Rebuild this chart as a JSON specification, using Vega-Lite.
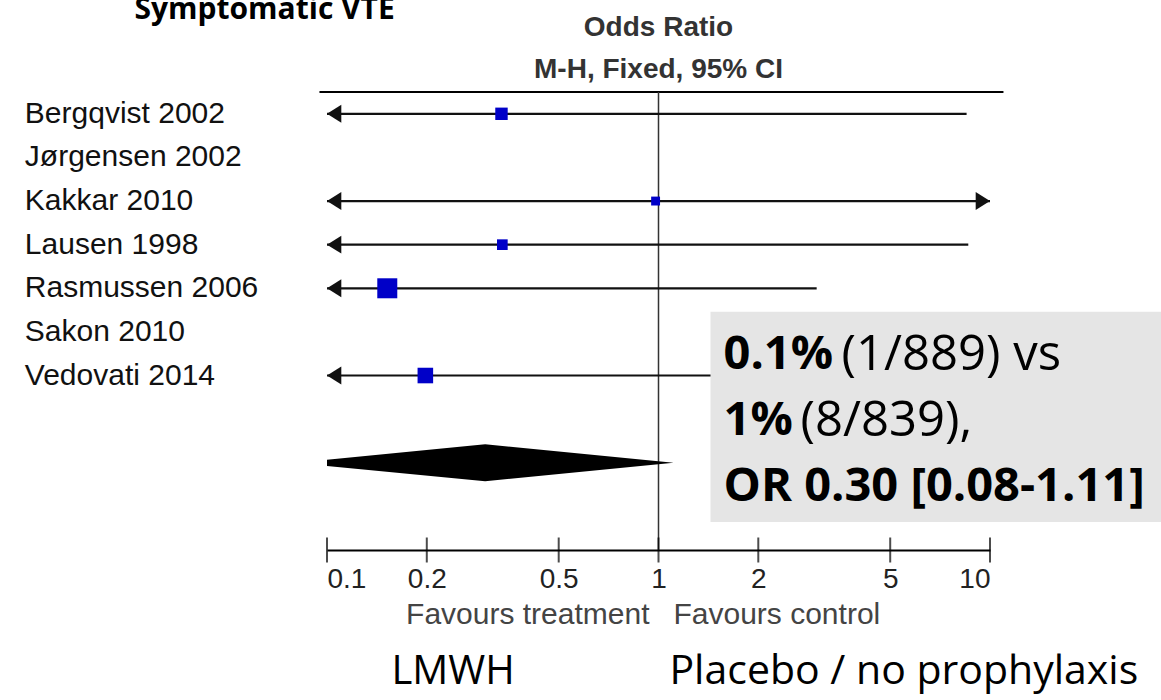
{
  "$schema": "https://vega.github.io/schema/vega-lite/v6.json",
  "width": 663,
  "height": 458,
  "autosize": {"type": "none"},
  "padding": {"left": 327, "top": 92, "right": 171, "bottom": 150},
  "background": "white",
  "config": {"view": {"stroke": null}, "font": "Liberation Sans"},
  "datasets": {
    "studies": [
      {"study": "Bergqvist 2002", "row": 0, "or": 0.336, "lo": 0.0133, "hi": 8.5, "weight": 15.6},
      {"study": "Jørgensen 2002", "row": 1, "or": null, "lo": null, "hi": null, "weight": 0},
      {"study": "Kakkar 2010", "row": 2, "or": 0.98, "lo": 0.061, "hi": 15.8, "weight": 8.0},
      {"study": "Lausen 1998", "row": 3, "or": 0.338, "lo": 0.0133, "hi": 8.6, "weight": 11.5},
      {"study": "Rasmussen 2006", "row": 4, "or": 0.152, "lo": 0.0077, "hi": 3.0, "weight": 40.4},
      {"study": "Sakon 2010", "row": 5, "or": null, "lo": null, "hi": null, "weight": 0},
      {"study": "Vedovati 2014", "row": 6, "or": 0.198, "lo": 0.008, "hi": 4.9, "weight": 24.5}
    ],
    "pooled": [
      {"or": 0.08, "lower": 8, "upper": 8},
      {"or": 0.30, "lower": 7.576, "upper": 8.424},
      {"or": 1.11, "lower": 8, "upper": 8}
    ],
    "ticks": [{"v": 0.1}, {"v": 0.2}, {"v": 0.5}, {"v": 1}, {"v": 2}, {"v": 5}, {"v": 10}]
  },
  "data": {"name": "studies"},
  "layer": [
    {
      "data": {"values": [{}]},
      "mark": {"type": "rule", "color": "#000000", "strokeWidth": 2},
      "encoding": {
        "x": {
          "datum": 0.0949,
          "type": "quantitative",
          "scale": {"type": "log", "domain": [0.1, 10], "nice": false},
          "axis": {
            "values": [0.1, 0.2, 0.5, 1, 2, 5, 10],
            "format": "~g",
            "title": null,
            "grid": false,
            "ticks": false,
            "tickSize": 0,
            "domain": true,
            "domainColor": "#000000",
            "domainWidth": 2,
            "labelFlush": true,
            "labelPadding": 15,
            "labelFont": "Liberation Sans",
            "labelFontSize": 28,
            "labelColor": "#222222"
          }
        },
        "x2": {"datum": 10.98},
        "y": {
          "datum": -0.5,
          "type": "quantitative",
          "scale": {"domain": [-0.5, 10], "reverse": true, "nice": false, "zero": false},
          "axis": null
        }
      }
    },
    {
      "data": {"values": [{}]},
      "mark": {"type": "rule", "color": "#333333", "strokeWidth": 1.5},
      "encoding": {
        "x": {"datum": 1, "type": "quantitative"},
        "y": {"datum": -0.5, "type": "quantitative", "axis": null},
        "y2": {"datum": 10}
      }
    },
    {
      "data": {"name": "ticks"},
      "mark": {"type": "tick", "orient": "vertical", "color": "#000000", "thickness": 2, "size": 25},
      "encoding": {
        "x": {"field": "v", "type": "quantitative"},
        "y": {"datum": 10, "type": "quantitative", "axis": null}
      }
    },
    {
      "mark": {"type": "rule", "clip": true, "color": "#111111", "strokeWidth": 2.2},
      "encoding": {
        "x": {"field": "lo", "type": "quantitative"},
        "x2": {"field": "hi"},
        "y": {"field": "row", "type": "quantitative", "axis": null}
      }
    },
    {
      "transform": [{"filter": "datum.lo != null && datum.lo < 0.1"}],
      "mark": {"type": "point", "shape": "M0,0L1.6,-1L1.6,1Z", "filled": true, "color": "#111111", "opacity": 1, "size": 320},
      "encoding": {
        "x": {"datum": 0.1, "type": "quantitative"},
        "y": {"field": "row", "type": "quantitative", "axis": null}
      }
    },
    {
      "transform": [{"filter": "datum.hi != null && datum.hi > 10"}],
      "mark": {"type": "point", "shape": "M0,0L-1.6,-1L-1.6,1Z", "filled": true, "color": "#111111", "opacity": 1, "size": 320},
      "encoding": {
        "x": {"datum": 10, "type": "quantitative"},
        "y": {"field": "row", "type": "quantitative", "axis": null}
      }
    },
    {
      "mark": {"type": "square", "filled": true, "color": "#0000c8", "opacity": 1},
      "encoding": {
        "x": {"field": "or", "type": "quantitative"},
        "y": {"field": "row", "type": "quantitative", "axis": null},
        "size": {"field": "weight", "type": "quantitative", "scale": {"domain": [0, 40.4], "range": [0, 400]}, "legend": null}
      }
    },
    {
      "data": {"name": "pooled"},
      "mark": {"type": "area", "clip": true, "color": "#000000", "opacity": 1, "orient": "vertical"},
      "encoding": {
        "x": {"field": "or", "type": "quantitative"},
        "y": {"field": "lower", "type": "quantitative", "axis": null},
        "y2": {"field": "upper"}
      }
    },
    {
      "data": {"values": [{}]},
      "mark": {"type": "rect", "color": "#e5e5e5", "opacity": 1},
      "encoding": {
        "x": {"datum": 1.435, "type": "quantitative"},
        "x2": {"datum": 33.1},
        "y": {"datum": 4.54, "type": "quantitative", "axis": null},
        "y2": {"datum": 9.36}
      }
    },
    {
      "mark": {"type": "text", "align": "left", "baseline": "middle", "font": "Liberation Sans", "fontSize": 30, "color": "#111111"},
      "encoding": {
        "x": {"datum": 0.01226, "type": "quantitative"},
        "y": {"field": "row", "type": "quantitative", "axis": null},
        "text": {"field": "study"}
      }
    },
    {
      "data": {"values": [{}]},
      "mark": {"type": "text", "align": "center", "baseline": "middle", "font": "Liberation Sans", "fontSize": 28, "fontWeight": "bold", "color": "#333333"},
      "encoding": {
        "x": {"datum": 1, "type": "quantitative"},
        "y": {"datum": -1.967, "type": "quantitative", "axis": null},
        "text": {"value": "Odds Ratio"}
      }
    },
    {
      "data": {"values": [{}]},
      "mark": {"type": "text", "align": "center", "baseline": "middle", "font": "Liberation Sans", "fontSize": 28, "fontWeight": "bold", "color": "#333333"},
      "encoding": {
        "x": {"datum": 1, "type": "quantitative"},
        "y": {"datum": -1.0, "type": "quantitative", "axis": null},
        "text": {"value": "M-H, Fixed, 95% CI"}
      }
    },
    {
      "data": {"values": [{}]},
      "mark": {"type": "text", "align": "right", "baseline": "middle", "font": "Liberation Sans", "fontSize": 30, "color": "#444444"},
      "encoding": {
        "x": {"datum": 0.9394, "type": "quantitative"},
        "y": {"datum": 11.5, "type": "quantitative", "axis": null},
        "text": {"value": "Favours treatment"}
      }
    },
    {
      "data": {"values": [{}]},
      "mark": {"type": "text", "align": "left", "baseline": "middle", "font": "Liberation Sans", "fontSize": 30, "color": "#444444"},
      "encoding": {
        "x": {"datum": 1.1097, "type": "quantitative"},
        "y": {"datum": 11.5, "type": "quantitative", "axis": null},
        "text": {"value": "Favours control"}
      }
    },
    {
      "data": {"values": [{}]},
      "mark": {"type": "text", "align": "left", "baseline": "middle", "font": "Open Sans", "fontSize": 47, "fontWeight": "bold", "color": "#000000"},
      "encoding": {
        "x": {"datum": 1.571, "type": "quantitative"},
        "y": {"datum": 5.53, "type": "quantitative", "axis": null},
        "text": {"value": "0.1%"}
      }
    },
    {
      "data": {"values": [{}]},
      "mark": {"type": "text", "align": "left", "baseline": "middle", "font": "Open Sans", "fontSize": 49, "color": "#000000"},
      "encoding": {
        "x": {"datum": 3.565, "type": "quantitative"},
        "y": {"datum": 5.53, "type": "quantitative", "axis": null},
        "text": {"value": "(1/889) vs"}
      }
    },
    {
      "data": {"values": [{}]},
      "mark": {"type": "text", "align": "left", "baseline": "middle", "font": "Open Sans", "fontSize": 47, "fontWeight": "bold", "color": "#000000"},
      "encoding": {
        "x": {"datum": 1.571, "type": "quantitative"},
        "y": {"datum": 7.04, "type": "quantitative", "axis": null},
        "text": {"value": "1%"}
      }
    },
    {
      "data": {"values": [{}]},
      "mark": {"type": "text", "align": "left", "baseline": "middle", "font": "Open Sans", "fontSize": 49, "color": "#000000"},
      "encoding": {
        "x": {"datum": 2.681, "type": "quantitative"},
        "y": {"datum": 7.04, "type": "quantitative", "axis": null},
        "text": {"value": "(8/839),"}
      }
    },
    {
      "data": {"values": [{}]},
      "mark": {"type": "text", "align": "left", "baseline": "middle", "font": "Open Sans", "fontSize": 47, "fontWeight": "bold", "color": "#000000"},
      "encoding": {
        "x": {"datum": 1.571, "type": "quantitative"},
        "y": {"datum": 8.56, "type": "quantitative", "axis": null},
        "text": {"value": "OR 0.30 [0.08-1.11]"}
      }
    },
    {
      "data": {"values": [{}]},
      "mark": {"type": "text", "align": "left", "baseline": "middle", "font": "Open Sans", "fontSize": 40, "color": "#000000"},
      "encoding": {
        "x": {"datum": 0.1565, "type": "quantitative"},
        "y": {"datum": 12.8, "type": "quantitative", "axis": null},
        "text": {"value": "LMWH"}
      }
    },
    {
      "data": {"values": [{}]},
      "mark": {"type": "text", "align": "left", "baseline": "middle", "font": "Open Sans", "fontSize": 41, "color": "#000000"},
      "encoding": {
        "x": {"datum": 1.079, "type": "quantitative"},
        "y": {"datum": 12.8, "type": "quantitative", "axis": null},
        "text": {"value": "Placebo / no prophylaxis"}
      }
    },
    {
      "data": {"values": [{}]},
      "mark": {"type": "text", "align": "left", "baseline": "alphabetic", "font": "Open Sans", "fontSize": 30, "fontWeight": "bold", "color": "#000000"},
      "encoding": {
        "x": {"datum": 0.02626, "type": "quantitative"},
        "y": {"datum": -2.17, "type": "quantitative", "axis": null},
        "text": {"value": "Symptomatic VTE"}
      }
    }
  ]
}
